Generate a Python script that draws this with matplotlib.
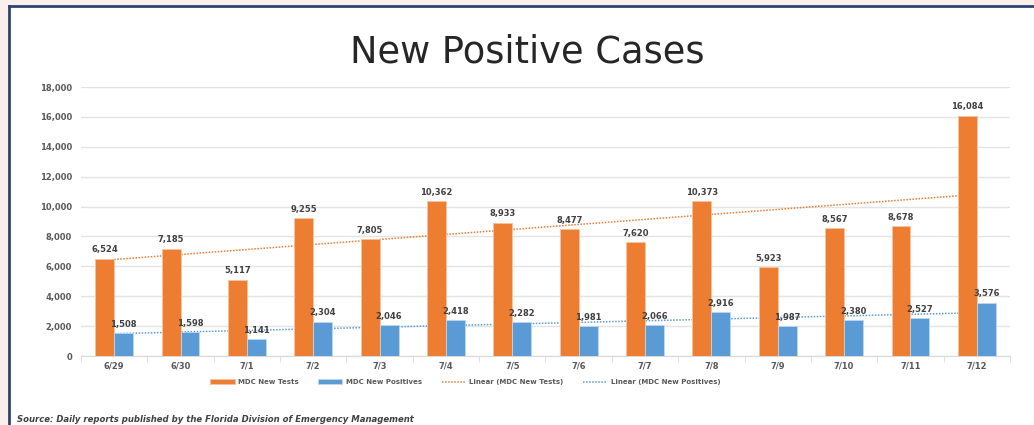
import numpy as np
import matplotlib
matplotlib.use("Agg")
import matplotlib.pyplot as plt
from matplotlib.patches import Rectangle
from matplotlib.lines import Line2D

# data
dates = ["6/29", "6/30", "7/1", "7/2", "7/3", "7/4", "7/5", "7/6", "7/7",
         "7/8", "7/9", "7/10", "7/11", "7/12"]
new_tests = [6524, 7185, 5117, 9255, 7805, 10362, 8933, 8477, 7620,
             10373, 5923, 8567, 8678, 16084]
new_positives = [1508, 1598, 1141, 2304, 2046, 2418, 2282, 1981, 2066,
                 2916, 1987, 2380, 2527, 3576]

orange = "#ED7D31"
blue = "#5B9BD5"
txt = "#404040"

plt.rcParams['font.family'] = ['DejaVu Sans']

fig = plt.figure(figsize=(10.34, 4.25), dpi=100)
fig.patch.set_facecolor("#FBEFEB")
# white slide area with dark frame (top and left)
fig.patches.append(Rectangle((9/1034, 0), 1, 1 - 6/425, transform=fig.transFigure,
                             facecolor="white", edgecolor="none", zorder=-5))
fig.lines.append(Line2D([9/1034, 1], [1 - 6/425, 1 - 6/425], transform=fig.transFigure,
                        color="#2E4470", lw=2, zorder=-4))
fig.lines.append(Line2D([9/1034, 9/1034], [0, 1 - 6/425], transform=fig.transFigure,
                        color="#2E4470", lw=2, zorder=-4))

ax = fig.add_axes([81/1034, 69/425, 929/1034, 269/425])
ax.set_facecolor("none")

x = np.arange(len(dates))
w = 0.285
b1 = ax.bar(x - w/2, new_tests, w, color=orange, edgecolor="#F6C4A3", lw=0.6,
            zorder=3, label="MDC New Tests")
b2 = ax.bar(x + w/2, new_positives, w, color=blue, edgecolor="#BFD7EE", lw=0.6,
            zorder=3, label="MDC New Positives")

# linear trend lines (like Excel's trendline)
m1, c1 = np.polyfit(x, new_tests, 1)
m2, c2 = np.polyfit(x, new_positives, 1)
ax.plot(x, m1*x + c1, color=orange, lw=1.1, ls=(0, (1, 1)), zorder=2,
        label="Linear (MDC New Tests)")
ax.plot(x, m2*x + c2, color=blue, lw=1.1, ls=(0, (1, 1)), zorder=2,
        label="Linear (MDC New Positives)")

for xi, v in zip(x, new_tests):
    ax.annotate(f"{v:,}", (xi - w/2, v), xytext=(0, 3), textcoords="offset points",
                ha="center", va="bottom", fontsize=6, fontweight="bold", color=txt)
for xi, v in zip(x, new_positives):
    ax.annotate(f"{v:,}", (xi + w/2, v), xytext=(0, 3), textcoords="offset points",
                ha="center", va="bottom", fontsize=6, fontweight="bold", color=txt)

ax.set_ylim(0, 18000)
ax.set_yticks(np.arange(0, 18001, 2000))
ax.set_yticklabels([f"{int(t):,}" for t in ax.get_yticks()])
ax.set_xlim(-0.5, len(dates) - 0.5)
ax.set_xticks(x)
ax.set_xticklabels(dates)
ax.set_xticks(np.arange(-0.5, len(dates), 1), minor=True)
ax.tick_params(axis="x", which="major", length=0, pad=4)
ax.tick_params(axis="x", which="minor", length=4, color="#D9D9D9")
ax.tick_params(axis="y", length=0, pad=6.5)
for lab in ax.get_xticklabels() + ax.get_yticklabels():
    lab.set_fontsize(6)
    lab.set_fontweight("bold")
    lab.set_color("#595959")
ax.grid(axis="y", color="#E3E3E3", lw=1.0, zorder=0)
ax.set_axisbelow(True)
for s in ["top", "right", "left"]:
    ax.spines[s].set_visible(False)
ax.spines["bottom"].set_color("#D9D9D9")

fig.text(0.510, 1 - 52/425, "New Positive Cases", ha="center", va="center",
         fontsize=26.5, color="#262626")

leg = fig.legend(handles=[b1, b2] + ax.lines, loc="center", ncol=4,
                 bbox_to_anchor=(0.45, 1 - 382/425), frameon=False,
                 fontsize=5, handlelength=3.5, handleheight=0.8,
                 columnspacing=2.8, handletextpad=0.5)
for t in leg.get_texts():
    t.set_fontweight("bold")
    t.set_color("#595959")

fig.text(17/1034, 1 - 420/425, "Source: Daily reports published by the Florida Division of Emergency Management",
         ha="left", va="center", fontsize=6.1, style="italic", fontweight="bold", color=txt)

fig.savefig("out.png", dpi=100, facecolor=fig.get_facecolor())
